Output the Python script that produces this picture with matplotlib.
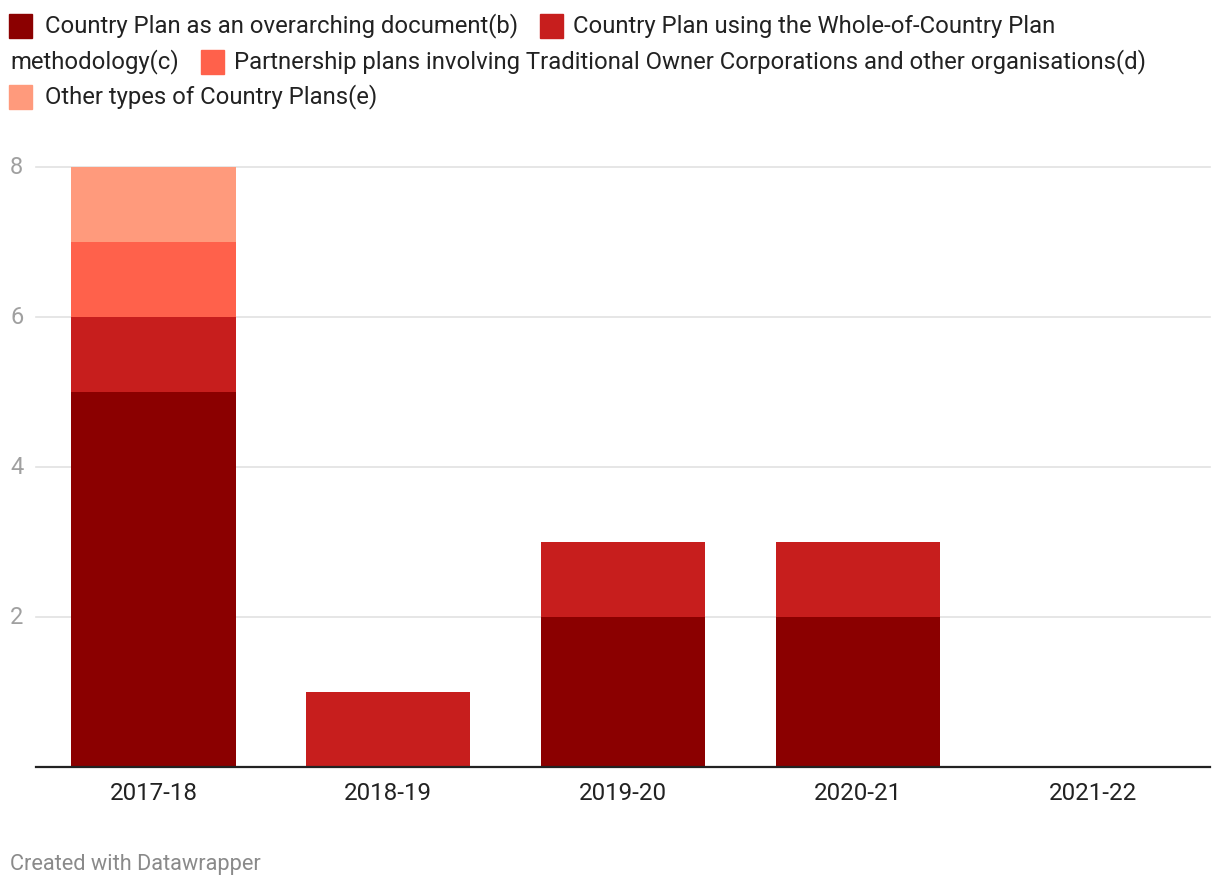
import numpy as np
import matplotlib
matplotlib.use("Agg")
import matplotlib.pyplot as plt
from matplotlib.patches import Rectangle
from matplotlib.transforms import blended_transform_factory

plt.rcParams['font.family'] = ['Roboto', 'DejaVu Sans']

# data
years = ["2017-18", "2018-19", "2019-20", "2020-21", "2021-22"]
overarching = [5, 0, 2, 2, 0]
whole_of_country = [1, 1, 1, 1, 0]
partnership = [1, 0, 0, 0, 0]
other_types = [1, 0, 0, 0, 0]
series_names = ["Country Plan as an overarching document(b)",
                "Country Plan using the Whole-of-Country Plan methodology(c)",
                "Partnership plans involving Traditional Owner Corporations and other organisations(d)",
                "Other types of Country Plans(e)"]
colors = ["#8b0000", "#c71e1d", "#ff614b", "#ff9a7c"]
yticks = [2, 4, 6, 8]

W, H = 1220, 888
fig = plt.figure(figsize=(W / 100, H / 100), dpi=100)
ax = fig.add_axes([36 / W, 1 - 767 / H, (1210 - 36) / W, 600 / H])

x = np.arange(len(years))
bottom = np.zeros(len(years))
for vals, c in zip([overarching, whole_of_country, partnership, other_types], colors):
    ax.bar(x, vals, width=0.7, bottom=bottom, color=c, zorder=2)
    bottom += np.array(vals)

ax.set_xlim(-0.5, len(years) - 0.5)
ax.set_ylim(0, 8)
for s in ["top", "right", "left"]:
    ax.spines[s].set_visible(False)
ax.spines["bottom"].set_color("#222222")
ax.spines["bottom"].set_linewidth(1.6)
ax.spines["bottom"].set_zorder(3)

# gridlines + y labels placed at the left edge of the figure
ax.set_yticks([])
tr = blended_transform_factory(fig.transFigure, ax.transData)
for t in yticks:
    ax.axhline(t, color="#e2e2e2", lw=1.2, zorder=1, clip_on=False)
    ax.text(10 / W, t, str(t), transform=tr, color="#a0a0a0", fontsize=17,
            ha="left", va="center")

ax.set_xticks(x)
ax.set_xticklabels(years, color="#222222", fontsize=17.4)
ax.tick_params(axis="x", length=0, pad=11)

# legend drawn by hand in pixel coords
def px(xp, yp):
    return xp / W, 1 - yp / H

def swatch(xp, yp, c):
    fig.patches.append(Rectangle(px(xp, yp + 12), 23 / W, 24 / H, color=c,
                                 transform=fig.transFigure, figure=fig))

lg = dict(fontsize=17.2, color="#222222", va="center", ha="left")
swatch(9, 26, colors[0])
fig.text(*px(45, 26), series_names[0], **lg)
swatch(540, 26, colors[1])
fig.text(*px(573, 26), "Country Plan using the Whole-of-Country Plan", **lg)
fig.text(*px(10, 62), "methodology(c)", **lg)
swatch(201, 62, colors[2])
fig.text(*px(234, 62), series_names[2], **lg)
swatch(9, 97, colors[3])
fig.text(*px(45, 97), series_names[3], **lg)

fig.text(*px(10, 864), "Created with Datawrapper", fontsize=15.7, color="#8a8a8a",
         va="center", ha="left")

fig.savefig("out.png", dpi=100)
